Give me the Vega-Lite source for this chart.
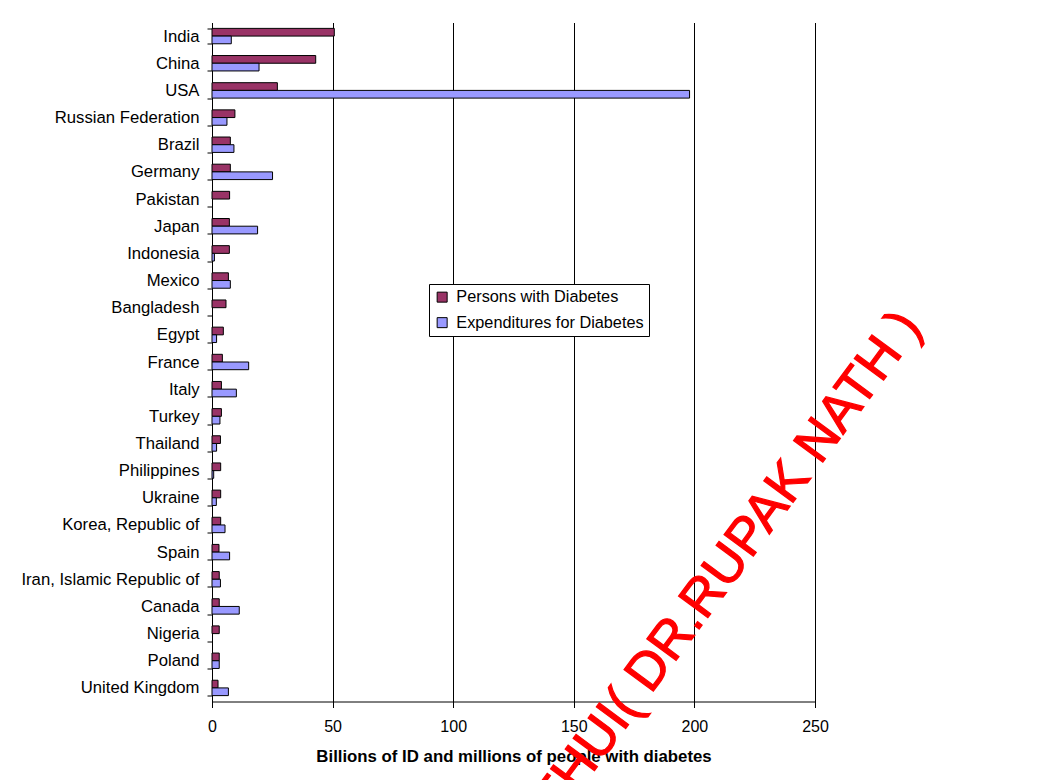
{
  "$schema": "https://vega.github.io/schema/vega-lite/v6.json",
  "width": 603,
  "height": 679,
  "autosize": {"type": "none"},
  "padding": {"left": 212, "top": 22.5, "right": 247, "bottom": 78.5},
  "background": "white",
  "config": {"view": {"stroke": null}, "font": "Liberation Sans"},
  "layer": [
    {
      "data": {
        "values": [
          {"country": "India", "series": "Persons with Diabetes", "value": 50.7},
          {"country": "India", "series": "Expenditures for Diabetes", "value": 8.0},
          {"country": "China", "series": "Persons with Diabetes", "value": 43.0},
          {"country": "China", "series": "Expenditures for Diabetes", "value": 19.5},
          {"country": "USA", "series": "Persons with Diabetes", "value": 27.1},
          {"country": "USA", "series": "Expenditures for Diabetes", "value": 198},
          {"country": "Russian Federation", "series": "Persons with Diabetes", "value": 9.5},
          {"country": "Russian Federation", "series": "Expenditures for Diabetes", "value": 6.2},
          {"country": "Brazil", "series": "Persons with Diabetes", "value": 7.6},
          {"country": "Brazil", "series": "Expenditures for Diabetes", "value": 9.1},
          {"country": "Germany", "series": "Persons with Diabetes", "value": 7.6},
          {"country": "Germany", "series": "Expenditures for Diabetes", "value": 25.1},
          {"country": "Pakistan", "series": "Persons with Diabetes", "value": 7.3},
          {"country": "Japan", "series": "Persons with Diabetes", "value": 7.2},
          {"country": "Japan", "series": "Expenditures for Diabetes", "value": 18.9},
          {"country": "Indonesia", "series": "Persons with Diabetes", "value": 7.2},
          {"country": "Indonesia", "series": "Expenditures for Diabetes", "value": 1.0},
          {"country": "Mexico", "series": "Persons with Diabetes", "value": 6.8},
          {"country": "Mexico", "series": "Expenditures for Diabetes", "value": 7.6},
          {"country": "Bangladesh", "series": "Persons with Diabetes", "value": 5.8},
          {"country": "Egypt", "series": "Persons with Diabetes", "value": 4.7},
          {"country": "Egypt", "series": "Expenditures for Diabetes", "value": 1.9},
          {"country": "France", "series": "Persons with Diabetes", "value": 4.3},
          {"country": "France", "series": "Expenditures for Diabetes", "value": 15.2},
          {"country": "Italy", "series": "Persons with Diabetes", "value": 3.9},
          {"country": "Italy", "series": "Expenditures for Diabetes", "value": 10.1},
          {"country": "Turkey", "series": "Persons with Diabetes", "value": 3.9},
          {"country": "Turkey", "series": "Expenditures for Diabetes", "value": 3.3},
          {"country": "Thailand", "series": "Persons with Diabetes", "value": 3.5},
          {"country": "Thailand", "series": "Expenditures for Diabetes", "value": 1.9},
          {"country": "Philippines", "series": "Persons with Diabetes", "value": 3.6},
          {"country": "Philippines", "series": "Expenditures for Diabetes", "value": 0.7},
          {"country": "Ukraine", "series": "Persons with Diabetes", "value": 3.6},
          {"country": "Ukraine", "series": "Expenditures for Diabetes", "value": 1.8},
          {"country": "Korea, Republic of", "series": "Persons with Diabetes", "value": 3.6},
          {"country": "Korea, Republic of", "series": "Expenditures for Diabetes", "value": 5.4},
          {"country": "Spain", "series": "Persons with Diabetes", "value": 2.9},
          {"country": "Spain", "series": "Expenditures for Diabetes", "value": 7.3},
          {"country": "Iran, Islamic Republic of", "series": "Persons with Diabetes", "value": 3.0},
          {"country": "Iran, Islamic Republic of", "series": "Expenditures for Diabetes", "value": 3.5},
          {"country": "Canada", "series": "Persons with Diabetes", "value": 3.0},
          {"country": "Canada", "series": "Expenditures for Diabetes", "value": 11.3},
          {"country": "Nigeria", "series": "Persons with Diabetes", "value": 3.0},
          {"country": "Poland", "series": "Persons with Diabetes", "value": 3.0},
          {"country": "Poland", "series": "Expenditures for Diabetes", "value": 3.0},
          {"country": "United Kingdom", "series": "Persons with Diabetes", "value": 2.5},
          {"country": "United Kingdom", "series": "Expenditures for Diabetes", "value": 6.8}
        ]
      },
      "mark": {"type": "bar", "stroke": "#000", "strokeWidth": 1},
      "encoding": {
        "y": {
          "field": "country",
          "type": "nominal",
          "sort": ["India", "China", "USA", "Russian Federation", "Brazil", "Germany", "Pakistan", "Japan", "Indonesia", "Mexico", "Bangladesh", "Egypt", "France", "Italy", "Turkey", "Thailand", "Philippines", "Ukraine", "Korea, Republic of", "Spain", "Iran, Islamic Republic of", "Canada", "Nigeria", "Poland", "United Kingdom"],
          "scale": {"paddingInner": 0.433, "paddingOuter": 0.2165},
          "axis": {
            "title": null,
            "tickBand": "extent",
            "domainColor": "#000",
            "tickColor": "#000",
            "tickSize": 5,
            "labelFontSize": 16.7,
            "labelColor": "#000",
            "labelPadding": 8,
            "labelLimit": 400
          }
        },
        "yOffset": {
          "field": "series",
          "type": "nominal",
          "sort": ["Persons with Diabetes", "Expenditures for Diabetes"],
          "scale": {"paddingInner": 0, "paddingOuter": 0}
        },
        "x": {
          "field": "value",
          "type": "quantitative",
          "scale": {"domain": [0, 250], "nice": false},
          "axis": {
            "values": [0, 50, 100, 150, 200, 250],
            "grid": true,
            "gridColor": "#000",
            "gridOpacity": 1,
            "gridWidth": 1,
            "domainColor": "#000",
            "tickColor": "#000",
            "tickSize": 6,
            "labelFont": "Liberation Sans",
            "labelFontSize": 16,
            "labelColor": "#000",
            "labelPadding": 11,
            "labelFlush": false,
            "title": "Billions of ID and millions of people with diabetes",
            "titleFont": "Liberation Sans",
            "titleFontSize": 16.8,
            "titleFontWeight": "bold",
            "titleColor": "#000",
            "titlePadding": 14
          }
        },
        "color": {
          "field": "series",
          "type": "nominal",
          "scale": {"domain": ["Persons with Diabetes", "Expenditures for Diabetes"], "range": ["#993366", "#9999FF"]},
          "legend": {
            "orient": "none",
            "legendX": 217,
            "legendY": 261.5,
            "title": null,
            "strokeColor": "#000",
            "fillColor": "#fff",
            "padding": 5,
            "symbolType": "square",
            "symbolSize": 100,
            "symbolStrokeColor": "#000",
            "symbolStrokeWidth": 1,
            "symbolOpacity": 1,
            "labelFontSize": 16.3,
            "labelColor": "#000",
            "labelLimit": 400,
            "rowPadding": 8.5,
            "labelOffset": 6
          }
        }
      }
    },
    {
      "data": {"values": [{"label": "THUI( DR.RUPAK NATH )", "pos": 207.1, "country": "Spain"}]},
      "mark": {"type": "text", "color": "#FF0000", "fontSize": 53, "angle": -53.5, "align": "center", "baseline": "middle", "dy": 20, "font": "Liberation Sans", "stroke": "#FF0000", "strokeWidth": 1.2},
      "encoding": {
        "x": {"field": "pos", "type": "quantitative"},
        "y": {
          "field": "country",
          "type": "nominal",
          "sort": ["India", "China", "USA", "Russian Federation", "Brazil", "Germany", "Pakistan", "Japan", "Indonesia", "Mexico", "Bangladesh", "Egypt", "France", "Italy", "Turkey", "Thailand", "Philippines", "Ukraine", "Korea, Republic of", "Spain", "Iran, Islamic Republic of", "Canada", "Nigeria", "Poland", "United Kingdom"]
        },
        "text": {"field": "label"}
      }
    }
  ]
}
